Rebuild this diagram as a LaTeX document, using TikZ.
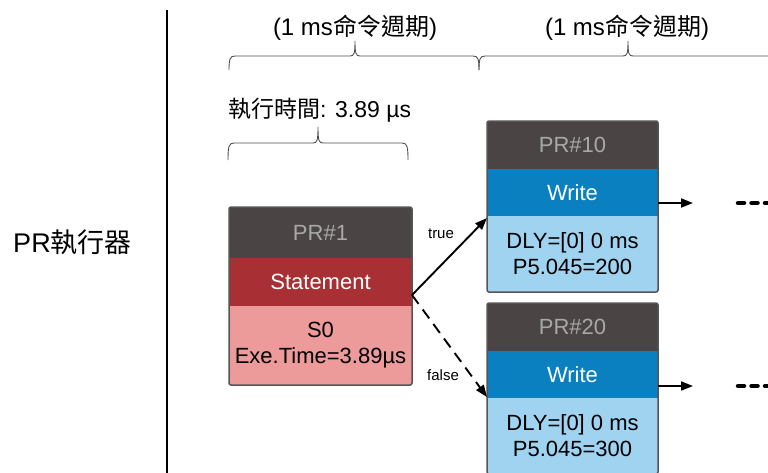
\documentclass[tikz,border=0pt]{standalone}
\usepackage{fontspec}
\setmainfont{Liberation Sans}
\newfontfamily\cjk{Noto Sans CJK TC}
\usetikzlibrary{arrows.meta,calc}
\definecolor{hdr}{HTML}{4A4544}
\definecolor{hdrtxt}{HTML}{A8A8A8}
\definecolor{stred}{HTML}{A83035}
\definecolor{stpink}{HTML}{EC9A9A}
\definecolor{wblue}{HTML}{0A80C0}
\definecolor{wlight}{HTML}{9FD3F0}
\definecolor{bord}{HTML}{555555}
\definecolor{brc}{HTML}{505050}
% x0, x1, xm, yb (ends), ya (arm), yt (tip)
\newcommand{\curlybr}[6]{%
  \draw[bracestyle] (#1,#4) .. controls (#1,#5+3) and (#1+1,#5) .. (#1+6,#5)
    -- (#3-5,#5) .. controls (#3-1,#5) and (#3,#5-2) .. (#3,#6)
    .. controls (#3,#5-2) and (#3+1,#5) .. (#3+5,#5)
    -- (#2-6,#5) .. controls (#2-1,#5) and (#2,#5+3) .. (#2,#4);}
\begin{document}
\begin{tikzpicture}[x=1pt,y=-1pt,
  bandbase/.style={anchor=north west, inner sep=0pt, outer sep=0pt, align=center,
    font=\fontsize{22}{26}\selectfont},
  hdrband/.style={bandbase, fill=hdr, text=hdrtxt},
  redband/.style={bandbase, fill=stred, text=white},
  pinkband/.style={bandbase, fill=stpink, text=black},
  blueband/.style={bandbase, fill=wblue, text=white},
  lightband/.style={bandbase, fill=wlight, text=black},
  boxborder/.style={draw=bord, line width=1.5pt, rounded corners=2pt},
  conn/.style={line width=1.9pt, -{Triangle[length=12pt,width=9pt]}},
  dotsline/.style={line width=4.5pt, line cap=round, dash pattern=on 6pt off 7.5pt},
  bracestyle/.style={draw=brc, line width=0.9pt},
  toptext/.style={anchor=base, inner sep=0pt, font=\fontsize{24}{28}\selectfont},
  lbl/.style={inner sep=0pt, font=\fontsize{15}{18}\selectfont}
]
\useasboundingbox (0,0) rectangle (768,472);

% left label and divider
\node[anchor=base, inner sep=0pt, font=\fontsize{27}{32}\selectfont] (exec) at (72.5,252) {PR{\cjk 執行器}};
\draw[line width=1.6pt] (167,10) -- (167,480);

% top labels and braces
\node[toptext] (cyc1) at (355,35) {(1 ms{\cjk 命令週期})};
\node[toptext] (cyc2) at (627,35) {(1 ms{\cjk 命令週期})};
\curlybr{229}{479}{355}{70}{56}{41}
\curlybr{479}{777}{628}{70}{56}{41}
\node[toptext, anchor=base west, font=\fontsize{23}{28}\selectfont] (extime) at (228,117) {{\cjk 執行時間}: 3.89 µs};
\curlybr{228}{408}{318}{160}{143}{127}

% PR#1
\node[hdrband, minimum width=183pt, minimum height=51pt] (pr1h) at (229,207) {PR\#1};
\node[redband, minimum width=183pt, minimum height=48pt] (pr1s) at (pr1h.south west) {Statement};
\node[pinkband, minimum width=183pt, minimum height=79pt] (pr1b) at (pr1s.south west) {S0\\Exe.Time=3.89µs};
\draw[boxborder] (pr1h.north west) rectangle (pr1b.south east);

% PR#10
\node[hdrband, minimum width=171pt, minimum height=48pt] (pr10h) at (487,121) {PR\#10};
\node[blueband, minimum width=171pt, minimum height=47pt] (pr10w) at (pr10h.south west) {Write};
\node[lightband, minimum width=171pt, minimum height=76pt] (pr10b) at (pr10w.south west) {DLY=[0] 0 ms\\P5.045=200};
\draw[boxborder] (pr10h.north west) rectangle (pr10b.south east);

% PR#20
\node[hdrband, minimum width=171pt, minimum height=48pt] (pr20h) at (487,303) {PR\#20};
\node[blueband, minimum width=171pt, minimum height=47pt] (pr20w) at (pr20h.south west) {Write};
\node[lightband, minimum width=171pt, minimum height=76pt] (pr20b) at (pr20w.south west) {DLY=[0] 0 ms\\P5.045=300};
\draw[boxborder] (pr20h.north west) rectangle (pr20b.south east);

% branches
\draw[conn] ([yshift=11pt]pr1s.south east) -- ([yshift=-2pt]pr10b.north west);
\draw[conn, dash pattern=on 11pt off 7pt] ([yshift=11pt]pr1s.south east) -- ([yshift=1pt]pr20b.north west);
\node[lbl] (tlbl) at (441,234) {true};
\node[lbl] (flbl) at (443,375) {false};

% outgoing arrows and continuation dots
\coordinate (e10) at (693,203);
\coordinate (e20) at (693,386);
\draw[conn] (e10 -| pr10w.east) -- (e10);
\draw[conn] (e20 -| pr20w.east) -- (e20);
\coordinate (d10) at (738,203);
\coordinate (d20) at (738,386);
\draw[dotsline] (d10) -- ++(45,0);
\draw[dotsline] (d20) -- ++(45,0);
\end{tikzpicture}
\end{document}
